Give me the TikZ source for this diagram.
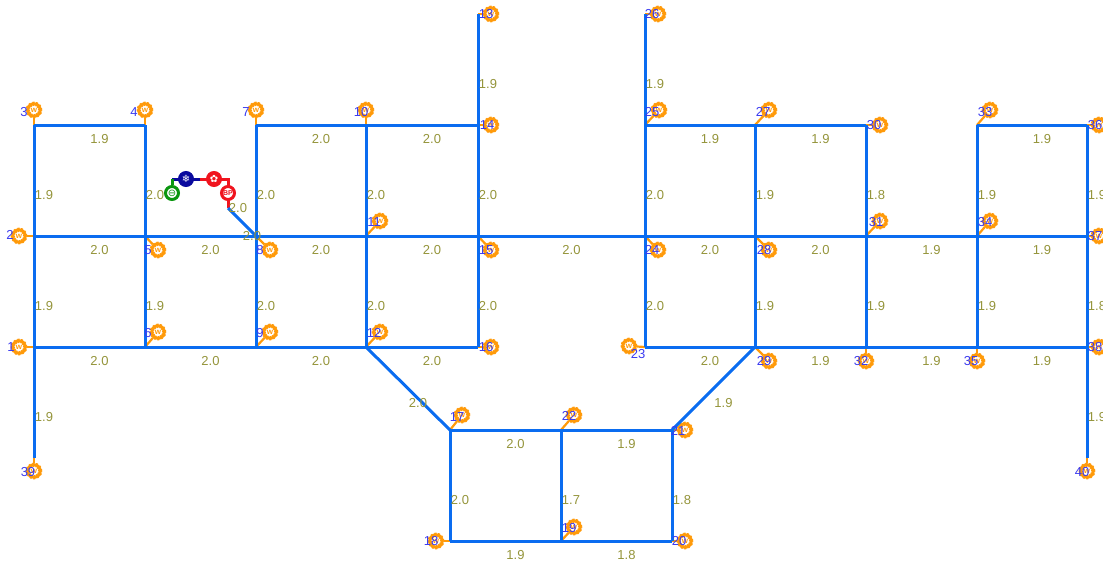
\documentclass[tikz,border=0pt]{standalone}
\usepackage{fontspec}
\setmainfont{Liberation Sans}
\newfontfamily\symfont{DejaVu Sans}
\usetikzlibrary{backgrounds}
\definecolor{pipeblue}{HTML}{0A6CF0}
\definecolor{meterorange}{HTML}{FF9A0A}
\definecolor{valolive}{HTML}{94943A}
\definecolor{numblue}{HTML}{3A3AF0}
\definecolor{unitblue}{HTML}{0A0A9E}
\definecolor{unitred}{HTML}{F0141E}
\definecolor{unitgreen}{HTML}{0A960F}
\tikzset{
  pipe/.style={draw=pipeblue,line width=3pt},
  stub/.style={draw=meterorange,line width=2.2pt},
  link/.style={line width=3pt},
  val/.style={text=valolive,font=\fontsize{13}{13}\selectfont,inner sep=0pt,xshift=10pt,yshift=-14.5pt},
  num/.style={text=numblue,font=\fontsize{13}{13}\selectfont,inner sep=0pt},
  meter/.style={circle,draw=meterorange,fill=white,line width=3pt,minimum size=12.5pt,inner sep=0pt,text=meterorange,font=\fontsize{8}{8}\selectfont\bfseries,
    postaction={draw=meterorange,line width=4.2pt,dash pattern=on 1.6pt off 1.6pt}},
  unit/.style={circle,line width=3pt,minimum size=13pt,inner sep=0pt,font=\symfont\fontsize{10}{10}\selectfont}
}

\begin{document}
\begin{tikzpicture}[x=1pt,y=-1pt]
\useasboundingbox (0,0) rectangle (1103,566);
% junctions
\coordinate (j1) at (34,347);
\coordinate (j2) at (34,236);
\coordinate (j3) at (34,125);
\coordinate (j4) at (145,125);
\coordinate (j5) at (145,236);
\coordinate (j6) at (145,347);
\coordinate (j7) at (256,125);
\coordinate (j8) at (256,236);
\coordinate (j9) at (256,347);
\coordinate (j10) at (366,125);
\coordinate (j11) at (366,236);
\coordinate (j12) at (366,347);
\coordinate (j13) at (478,14);
\coordinate (j14) at (478,125);
\coordinate (j15) at (478,236);
\coordinate (j16) at (478,347);
\coordinate (j17) at (450,430);
\coordinate (j18) at (450,541);
\coordinate (j19) at (561,541);
\coordinate (j20) at (672,541);
\coordinate (j21) at (672,430);
\coordinate (j22) at (561,430);
\coordinate (j23) at (645,347);
\coordinate (j24) at (645,236);
\coordinate (j25) at (645,125);
\coordinate (j26) at (645,14);
\coordinate (j27) at (755,125);
\coordinate (j28) at (755,236);
\coordinate (j29) at (755,347);
\coordinate (j30) at (866,125);
\coordinate (j31) at (866,236);
\coordinate (j32) at (866,347);
\coordinate (j33) at (977,125);
\coordinate (j34) at (977,236);
\coordinate (j35) at (977,347);
\coordinate (j36) at (1087,125);
\coordinate (j37) at (1087,236);
\coordinate (j38) at (1087,347);
\coordinate (j39) at (34,458);
\coordinate (j40) at (1087,458);
\coordinate (bend) at (228,208);
\coordinate (top) at (228,179);
\coordinate (split) at (200,179);
\coordinate (left) at (172,179);
% meters
\node[meter] (m1) at (19,347) {w};
\node[meter] (m2) at (19,236) {w};
\node[meter] (m3) at (34,110) {w};
\node[meter] (m4) at (145,110) {w};
\node[meter] (m5) at (158,250) {w};
\node[meter] (m6) at (158,332) {w};
\node[meter] (m7) at (256,110) {w};
\node[meter] (m8) at (270,250) {w};
\node[meter] (m9) at (270,332) {w};
\node[meter] (m10) at (366,110) {w};
\node[meter] (m11) at (380,221) {w};
\node[meter] (m12) at (380,332) {w};
\node[meter] (m13) at (491,14) {w};
\node[meter] (m14) at (491,125) {w};
\node[meter] (m15) at (491,250) {w};
\node[meter] (m16) at (491,347) {w};
\node[meter] (m17) at (462,415) {w};
\node[meter] (m18) at (436,541) {w};
\node[meter] (m19) at (574,527) {w};
\node[meter] (m20) at (685,541) {w};
\node[meter] (m21) at (685,430) {w};
\node[meter] (m22) at (574,415) {w};
\node[meter] (m23) at (629,346) {w};
\node[meter] (m24) at (658,250) {w};
\node[meter] (m25) at (659,110) {w};
\node[meter] (m26) at (658,14) {w};
\node[meter] (m27) at (769,110) {w};
\node[meter] (m28) at (769,250) {w};
\node[meter] (m29) at (769,361) {w};
\node[meter] (m30) at (880,125) {w};
\node[meter] (m31) at (880,221) {w};
\node[meter] (m32) at (866,361) {w};
\node[meter] (m33) at (990,110) {w};
\node[meter] (m34) at (990,221) {w};
\node[meter] (m35) at (977,361) {w};
\node[meter] (m36) at (1099,125) {w};
\node[meter] (m37) at (1099,236) {w};
\node[meter] (m38) at (1099,347) {w};
\node[meter] (m39) at (34,471) {w};
\node[meter] (m40) at (1087,471) {w};
% units on the branch
\node[unit,draw=unitgreen,fill=white,text=unitgreen] (ugreen) at (172,193) {⊖};
\node[unit,draw=unitblue,fill=unitblue,text=white] (ublue) at (186,179) {❄};
\node[unit,draw=unitred,fill=unitred,text=white] (ured) at (214,179) {✿};
\node[unit,draw=unitred,fill=white,text=unitred,font=\fontsize{7}{7}\selectfont\bfseries] (ubp) at (228,193) {BP};
% stubs and branch
\begin{scope}[on background layer]
\draw[stub] (j1) -- (m1);
\draw[stub] (j2) -- (m2);
\draw[stub] (j3) -- (m3);
\draw[stub] (j4) -- (m4);
\draw[stub] (j5) -- (m5);
\draw[stub] (j6) -- (m6);
\draw[stub] (j7) -- (m7);
\draw[stub] (j8) -- (m8);
\draw[stub] (j9) -- (m9);
\draw[stub] (j10) -- (m10);
\draw[stub] (j11) -- (m11);
\draw[stub] (j12) -- (m12);
\draw[stub] (j13) -- (m13);
\draw[stub] (j14) -- (m14);
\draw[stub] (j15) -- (m15);
\draw[stub] (j16) -- (m16);
\draw[stub] (j17) -- (m17);
\draw[stub] (j18) -- (m18);
\draw[stub] (j19) -- (m19);
\draw[stub] (j20) -- (m20);
\draw[stub] (j21) -- (m21);
\draw[stub] (j22) -- (m22);
\draw[stub] (j23) -- (m23);
\draw[stub] (j24) -- (m24);
\draw[stub] (j25) -- (m25);
\draw[stub] (j26) -- (m26);
\draw[stub] (j27) -- (m27);
\draw[stub] (j28) -- (m28);
\draw[stub] (j29) -- (m29);
\draw[stub] (j30) -- (m30);
\draw[stub] (j31) -- (m31);
\draw[stub] (j32) -- (m32);
\draw[stub] (j33) -- (m33);
\draw[stub] (j34) -- (m34);
\draw[stub] (j35) -- (m35);
\draw[stub] (j36) -- (m36);
\draw[stub] (j37) -- (m37);
\draw[stub] (j38) -- (m38);
\draw[stub] (j39) -- (m39);
\draw[stub] (j40) -- (m40);
\draw[link,draw=unitred] (bend) -- (top) -- (split);
\draw[link,draw=unitblue] (split) -- (left);
\draw[link,draw=unitgreen] (left) -- (ugreen);
\end{scope}
% pipes
\draw[pipe] (j3) -- node[val] (v1) {1.9} (j4);
\draw[pipe] (j7) -- node[val] (v2) {2.0} (j10);
\draw[pipe] (j10) -- node[val] (v3) {2.0} (j14);
\draw[pipe] (j25) -- node[val] (v4) {1.9} (j27);
\draw[pipe] (j27) -- node[val] (v5) {1.9} (j30);
\draw[pipe] (j33) -- node[val] (v6) {1.9} (j36);
\draw[pipe] (j2) -- node[val] (v7) {2.0} (j5);
\draw[pipe] (j5) -- node[val] (v8) {2.0} (j8);
\draw[pipe] (j8) -- node[val] (v9) {2.0} (j11);
\draw[pipe] (j11) -- node[val] (v10) {2.0} (j15);
\draw[pipe] (j15) -- node[val] (v11) {2.0} (j24);
\draw[pipe] (j24) -- node[val] (v12) {2.0} (j28);
\draw[pipe] (j28) -- node[val] (v13) {2.0} (j31);
\draw[pipe] (j31) -- node[val] (v14) {1.9} (j34);
\draw[pipe] (j34) -- node[val] (v15) {1.9} (j37);
\draw[pipe] (j1) -- node[val] (v16) {2.0} (j6);
\draw[pipe] (j6) -- node[val] (v17) {2.0} (j9);
\draw[pipe] (j9) -- node[val] (v18) {2.0} (j12);
\draw[pipe] (j12) -- node[val] (v19) {2.0} (j16);
\draw[pipe] (j23) -- node[val] (v20) {2.0} (j29);
\draw[pipe] (j29) -- node[val] (v21) {1.9} (j32);
\draw[pipe] (j32) -- node[val] (v22) {1.9} (j35);
\draw[pipe] (j35) -- node[val] (v23) {1.9} (j38);
\draw[pipe] (j3) -- node[val] (v24) {1.9} (j2);
\draw[pipe] (j4) -- node[val] (v25) {2.0} (j5);
\draw[pipe] (j7) -- node[val] (v26) {2.0} (j8);
\draw[pipe] (j10) -- node[val] (v27) {2.0} (j11);
\draw[pipe] (j14) -- node[val] (v28) {2.0} (j15);
\draw[pipe] (j25) -- node[val] (v29) {2.0} (j24);
\draw[pipe] (j27) -- node[val] (v30) {1.9} (j28);
\draw[pipe] (j30) -- node[val] (v31) {1.8} (j31);
\draw[pipe] (j33) -- node[val] (v32) {1.9} (j34);
\draw[pipe] (j36) -- node[val] (v33) {1.9} (j37);
\draw[pipe] (j2) -- node[val] (v34) {1.9} (j1);
\draw[pipe] (j5) -- node[val] (v35) {1.9} (j6);
\draw[pipe] (j8) -- node[val] (v36) {2.0} (j9);
\draw[pipe] (j11) -- node[val] (v37) {2.0} (j12);
\draw[pipe] (j15) -- node[val] (v38) {2.0} (j16);
\draw[pipe] (j24) -- node[val] (v39) {2.0} (j23);
\draw[pipe] (j28) -- node[val] (v40) {1.9} (j29);
\draw[pipe] (j31) -- node[val] (v41) {1.9} (j32);
\draw[pipe] (j34) -- node[val] (v42) {1.9} (j35);
\draw[pipe] (j37) -- node[val] (v43) {1.8} (j38);
\draw[pipe] (j1) -- node[val] (v44) {1.9} (j39);
\draw[pipe] (j38) -- node[val] (v45) {1.9} (j40);
\draw[pipe] (j13) -- node[val] (v46) {1.9} (j14);
\draw[pipe] (j26) -- node[val] (v47) {1.9} (j25);
\draw[pipe] (j12) -- node[val] (v48) {2.0} (j17);
\draw[pipe] (j29) -- node[val] (v49) {1.9} (j21);
\draw[pipe] (j17) -- node[val] (v50) {2.0} (j22);
\draw[pipe] (j22) -- node[val] (v51) {1.9} (j21);
\draw[pipe] (j18) -- node[val] (v52) {1.9} (j19);
\draw[pipe] (j19) -- node[val] (v53) {1.8} (j20);
\draw[pipe] (j17) -- node[val] (v54) {2.0} (j18);
\draw[pipe] (j22) -- node[val] (v55) {1.7} (j19);
\draw[pipe] (j21) -- node[val] (v56) {1.8} (j20);
\draw[pipe] (j8) -- node[val] (v57) {2.0} (bend);
\path (bend) -- node[val] (v58) {2.0} (top);
% numbers
\node[num] (n1) at (11,347) {1};
\node[num] (n2) at (10,235) {2};
\node[num] (n3) at (24,112) {3};
\node[num] (n4) at (134,112) {4};
\node[num] (n5) at (148,250) {5};
\node[num] (n6) at (148,333) {6};
\node[num] (n7) at (246,112) {7};
\node[num] (n8) at (260,250) {8};
\node[num] (n9) at (260,333) {9};
\node[num] (n10) at (361,112) {10};
\node[num] (n11) at (374,222) {11};
\node[num] (n12) at (374,333) {12};
\node[num] (n13) at (486,14) {13};
\node[num] (n14) at (487,125) {14};
\node[num] (n15) at (486,250) {15};
\node[num] (n16) at (486,347) {16};
\node[num] (n17) at (457,417) {17};
\node[num] (n18) at (431,541) {18};
\node[num] (n19) at (569,528) {19};
\node[num] (n20) at (679,541) {20};
\node[num] (n21) at (678,431) {21};
\node[num] (n22) at (569,416) {22};
\node[num] (n23) at (638,354) {23};
\node[num] (n24) at (652,250) {24};
\node[num] (n25) at (652,112) {25};
\node[num] (n26) at (652,14) {26};
\node[num] (n27) at (763,112) {27};
\node[num] (n28) at (764,250) {28};
\node[num] (n29) at (764,361) {29};
\node[num] (n30) at (874,125) {30};
\node[num] (n31) at (876,222) {31};
\node[num] (n32) at (861,361) {32};
\node[num] (n33) at (985,112) {33};
\node[num] (n34) at (985,222) {34};
\node[num] (n35) at (971,361) {35};
\node[num] (n36) at (1095,125) {36};
\node[num] (n37) at (1095,236) {37};
\node[num] (n38) at (1095,347) {38};
\node[num] (n39) at (28,472) {39};
\node[num] (n40) at (1082,472) {40};
\end{tikzpicture}
\end{document}
